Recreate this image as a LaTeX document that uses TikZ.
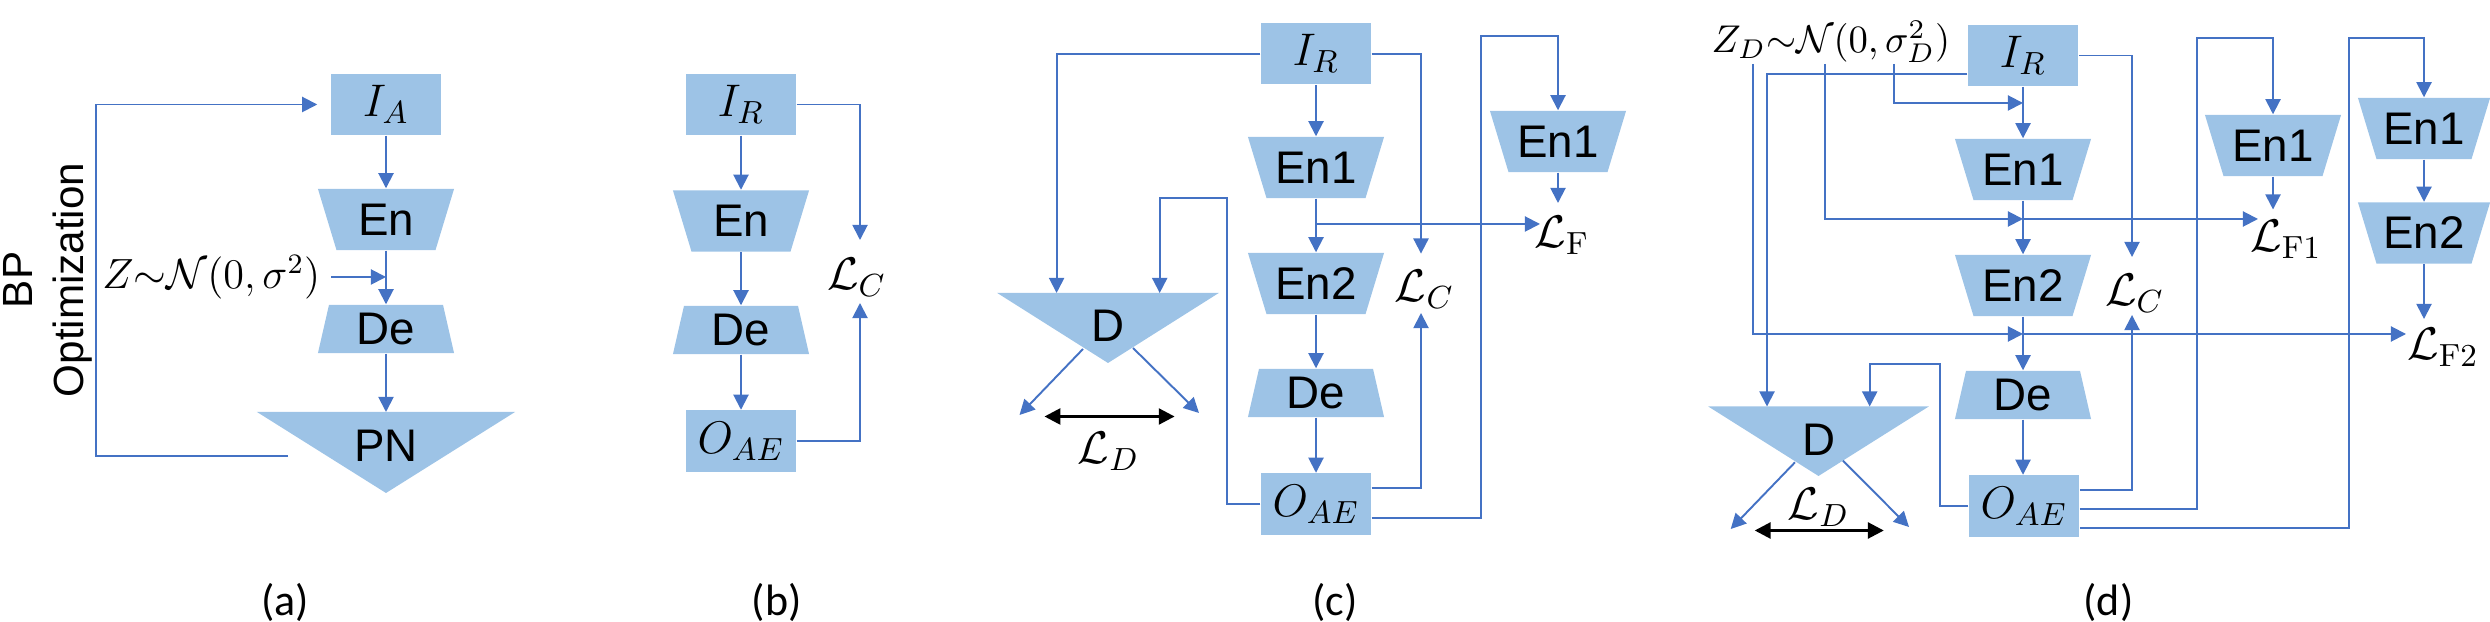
\documentclass[tikz,border=0pt]{standalone}
\usepackage{fix-cm}
\usepackage{fontspec}
\newfontfamily\arialf{Liberation Sans}
\newfontfamily\calibf{Carlito}
\usetikzlibrary{arrows.meta,calc}
\definecolor{bfill}{HTML}{9DC3E6}
\definecolor{bline}{HTML}{4472C4}
\pgfdeclarelayer{background}
\pgfsetlayers{background,main}
\tikzset{
 conn/.style={draw=bline, line width=0.55pt},
 arr/.style={conn, -{Triangle[length=4.3pt,width=4.3pt]}},
 barr/.style={draw=black, line width=0.8pt, {Triangle[length=4.5pt,width=4.5pt]}-{Triangle[length=4.5pt,width=4.5pt]}},
 lbl/.style={font=\fontsize{13}{15}\selectfont\arialf, text=black},
 mathlbl/.style={font=\fontsize{13}{15}\selectfont, inner sep=0pt},
 ztxt/.style={font=\fontsize{12}{14}\selectfont, inner sep=0pt},
 plbl/.style={font=\fontsize{12.5}{15}\selectfont\calibf},
 rectbox/.style={rectangle, fill=bfill, inner sep=0pt, minimum width=1.10cm, minimum height=0.61cm, font=\fontsize{13}{15}\selectfont},
 encbox/.style={rectangle, inner sep=0pt, minimum width=1.36cm, minimum height=0.61cm, lbl,
   path picture={\fill[bfill] (path picture bounding box.north west) -- (path picture bounding box.north east) -- ([xshift=-0.185cm]path picture bounding box.south east) -- ([xshift=0.185cm]path picture bounding box.south west) -- cycle;}},
 decbox/.style={rectangle, inner sep=0pt, minimum width=1.36cm, minimum height=0.48cm, lbl,
   path picture={\fill[bfill] ([xshift=0.11cm]path picture bounding box.north west) -- ([xshift=-0.11cm]path picture bounding box.north east) -- (path picture bounding box.south east) -- (path picture bounding box.south west) -- cycle;}},
 trinode/.style={rectangle, inner sep=0pt, anchor=north, lbl},
}
\begin{document}
\begin{tikzpicture}[x=0.01cm, y=-0.01cm]
\useasboundingbox (0,0) rectangle (2490,622);

% ---------------- (a)
\node[rectbox] (IA) at (386,104.5) {$I_A$};
\node[encbox] (Ena) at (386,219.5) {En};
\node[decbox] (Dea) at (386,329) {De};
\node[trinode, minimum width=2.565cm, minimum height=0.66cm] (PN) at (386,412) {PN};
\begin{pgfonlayer}{background}
\fill[bfill] (PN.north west) -- (PN.north east) -- ($(PN.north)+(0,81)$) -- cycle;
\end{pgfonlayer}
\node[ztxt, anchor=east] (Za) at (321,277) {$Z{\sim}\mathcal{N}(0,\sigma^2)$};
\node[font=\fontsize{12}{14.5}\selectfont\arialf, rotate=90, align=center] (BP) at (47.5,280) {BP\\Optimization};
\draw[arr] (IA) -- (Ena);
\draw[arr] (Ena) -- (Dea);
\draw[arr] (Dea) -- (PN);
\draw[arr] ([xshift=0.1cm]Za.east) -- (Za.east -| Ena.south);
\coordinate (fbs) at (288,456);
\coordinate (fbc) at (96,104.5);
\draw[arr] (fbs) -| (fbc) -- ([xshift=-0.13cm]IA.west);
\node[plbl] (la) at (285,602) {(a)};

% ---------------- (b)
\node[rectbox] (IRb) at (741,104.5) {$I_R$};
\node[encbox] (Enb) at (741,221) {En};
\node[decbox] (Deb) at (741,330) {De};
\node[rectbox] (OAEb) at (741,441) {$O_{AE}$};
\node[mathlbl] (LCb) at (856.7,277) {$\mathcal{L}_C$};
\coordinate (LCbt) at (860,240);
\coordinate (LCbb) at (860,303);
\draw[arr] (IRb) -- (Enb);
\draw[arr] (Enb) -- (Deb);
\draw[arr] (Deb) -- (OAEb);
\draw[arr] (IRb.east) -| (LCbt);
\draw[arr] (OAEb.east) -| (LCbb);
\node[plbl] (lb) at (776.7,602) {(b)};

% ---------------- (c)
\node[rectbox] (IRc) at (1316,53.8) {$I_R$};
\node[encbox] (En1c) at (1316,167.5) {En1};
\node[encbox] (En2c) at (1316,283.5) {En2};
\node[decbox] (Dec) at (1316,393) {De};
\node[rectbox] (OAEc) at (1316,504) {$O_{AE}$};
\node[encbox] (En1pc) at (1558,141.5) {En1};
\node[mathlbl] (LCc) at (1424.5,289) {$\mathcal{L}_C$};
\node[mathlbl] (LFc) at (1562,235) {$\mathcal{L}_{\mathrm{F}}$};
\node[trinode, minimum width=2.2cm, minimum height=0.64cm] (Dc) at (1108,293) {D};
\begin{pgfonlayer}{background}
\fill[bfill] (Dc.north west) -- (Dc.north east) -- ($(Dc.north)+(0,70)$) -- cycle;
\end{pgfonlayer}
\node[mathlbl] (LDc) at (1108.6,451.5) {$\mathcal{L}_D$};
\draw[arr] (IRc) -- (En1c);
\draw[arr] (En1c) -- (En2c);
\draw[arr] (En2c) -- (Dec);
\draw[arr] (Dec) -- (OAEc);
\coordinate (LFcin) at (1540,224);
\draw[arr] (En1c.south |- LFcin) -- (LFcin);
\coordinate (Dc1) at (1056.6,293);
\coordinate (Dc2) at (1159.7,293);
\draw[arr] (IRc.west) -| (Dc1);
\coordinate (LCct) at (1421,253.6);
\coordinate (LCcb) at (1421,313);
\draw[arr] (IRc.east) -| (LCct);
\draw[arr] ([yshift=0.16cm]OAEc.east) -| (LCcb);
\coordinate (cc1) at (1227,198);
\draw[arr] (OAEc.west) -| (cc1) -| (Dc2);
\coordinate (cc2) at (1481,36);
\draw[arr] ([yshift=-0.137cm]OAEc.east) -| (cc2) -| (En1pc.north);
\coordinate (LFct) at (1558,203);
\draw[arr] (En1pc.south) -- (LFct);
\draw[arr] ($(Dc.north)+(-25,56)$) -- ($(Dc.north)+(-88.5,122)$);
\draw[arr] ($(Dc.north)+(25,55)$) -- ($(Dc.north)+(91,120)$);
\draw[barr] ($(Dc.north)+(-63.5,123.5)$) -- ($(Dc.north)+(66.6,123.5)$);
\node[plbl] (lc) at (1335,602) {(c)};

% ---------------- (d)
\node[ztxt, font=\fontsize{11}{13}\selectfont, anchor=west] (Zd) at (1711,42) {$Z_D{\sim}\mathcal{N}(0,\sigma_D^2)$};
\node[rectbox] (IRd) at (2023,55.5) {$I_R$};
\node[encbox] (En1d) at (2023,169.5) {En1};
\node[encbox] (En2d) at (2023,285.5) {En2};
\node[decbox] (Ded) at (2023,395) {De};
\node[rectbox] (OAEd) at (2024,506) {$O_{AE}$};
\node[encbox] (En1pd) at (2273,145.5) {En1};
\node[encbox, minimum width=1.32cm] (En1ppd) at (2424,128.5) {En1};
\node[encbox, minimum width=1.32cm] (En2ppd) at (2424,233) {En2};
\node[mathlbl] (LCd) at (2134.7,293) {$\mathcal{L}_C$};
\node[mathlbl] (LF1d) at (2286,239) {$\mathcal{L}_{\mathrm{F1}}$};
\node[mathlbl] (LF2d) at (2443,347) {$\mathcal{L}_{\mathrm{F2}}$};
\node[trinode, minimum width=2.19cm, minimum height=0.66cm] (Dd) at (1818.5,406.5) {D};
\begin{pgfonlayer}{background}
\fill[bfill] (Dd.north west) -- (Dd.north east) -- ($(Dd.north)+(0,69.5)$) -- cycle;
\end{pgfonlayer}
\node[mathlbl] (LDd) at (1818.5,507.6) {$\mathcal{L}_D$};
\draw[arr] (IRd) -- (En1d);
\draw[arr] (En1d) -- (En2d);
\draw[arr] (En2d) -- (Ded);
\draw[arr] (Ded) -- (Ded.south |- OAEd.north);
\coordinate (zd1) at (1753,64);
\coordinate (zd2) at (1825,64);
\coordinate (zd3) at (1894,64);
\coordinate (j0) at (2023,103);
\coordinate (j1) at (2023,219);
\coordinate (j2) at (2023,334);
\coordinate (LF1in) at (2258,219);
\coordinate (LF2in) at (2406,334);
\draw[arr] (zd3) |- (j0);
\draw[arr] (zd2) |- (j1);
\draw[arr] (j1) -- (LF1in);
\draw[arr] (zd1) |- (j2);
\draw[arr] (j2) -- (LF2in);
\coordinate (Dd1) at (1767,406.5);
\coordinate (Dd2) at (1869.7,406.5);
\draw[arr] ([yshift=-0.185cm]IRd.west) -| (Dd1);
\coordinate (LCdt) at (2132,257);
\coordinate (LCdb) at (2132,315);
\draw[arr] (IRd.east) -| (LCdt);
\draw[arr] ([yshift=0.16cm]OAEd.east) -| (LCdb);
\coordinate (cd1) at (2197,38);
\draw[arr] ([yshift=-0.03cm]OAEd.east) -| (cd1) -| (En1pd.north);
\coordinate (cd2) at (2349,38);
\draw[arr] ([yshift=-0.217cm]OAEd.east) -| (cd2) -| (En1ppd.north);
\coordinate (cd3) at (1939.7,364);
\draw[arr] (OAEd.west) -| (cd3) -| (Dd2);
\coordinate (LF1t) at (2273,209.5);
\draw[arr] (En1pd.south) -- (LF1t);
\draw[arr] (En1ppd) -- (En2ppd);
\coordinate (LF2t) at (2424,319);
\draw[arr] (En2ppd.south) -- (LF2t);
\draw[arr] ($(Dd.north)+(-23.5,55.8)$) -- ($(Dd.north)+(-87.8,122.5)$);
\draw[arr] ($(Dd.north)+(24.5,54.2)$) -- ($(Dd.north)+(90.5,120.5)$);
\draw[barr] ($(Dd.north)+(-63.8,124)$) -- ($(Dd.north)+(65.3,124)$);
\node[plbl] (ld) at (2108.5,602) {(d)};
\end{tikzpicture}
\end{document}
